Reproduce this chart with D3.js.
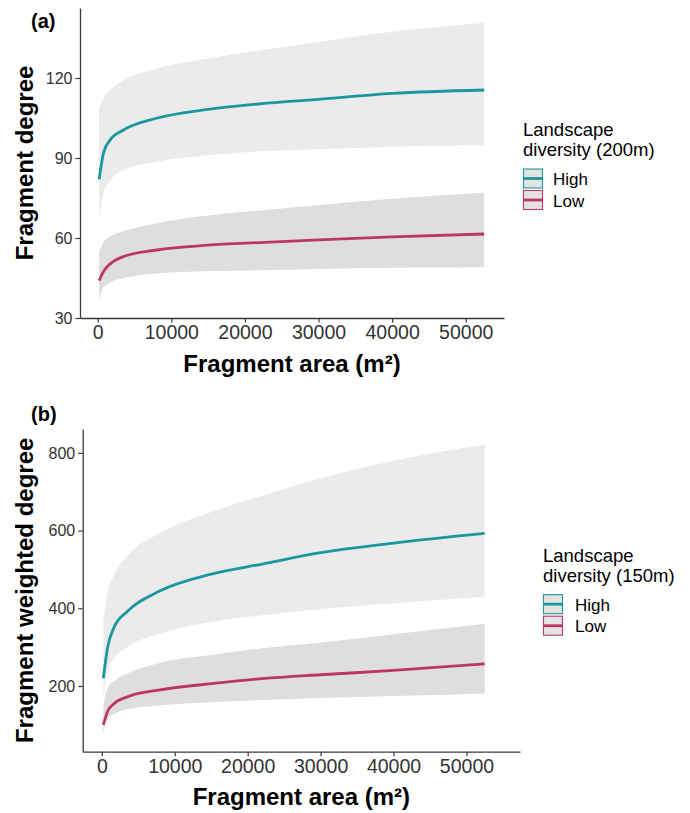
<!DOCTYPE html>
<html>
<head>
<meta charset="utf-8">
<script src="https://cdn.jsdelivr.net/npm/d3@7"></script>
<style>
  html, body { margin: 0; padding: 0; background: #ffffff; }
  svg { display: block; font-family: "Liberation Sans", Arial, sans-serif; }
</style>
</head>
<body>
<svg id="chart" width="690" height="813"></svg>
<script>
// ---------- data ----------
const areaX = [200, 800, 1700, 3500, 8000, 15000, 22000, 30000, 40000, 52500];
const xTicks = [0, 10000, 20000, 30000, 40000, 50000];

// Panel (a): Fragment degree, landscape diversity (200m)
const aHighFit   = [82, 92, 96.8, 100.5, 104.9, 108.2, 110.3, 112.0, 114.2, 115.5];
const aHighUpper = [108.7, 112.5, 115.5, 119.2, 123.6, 127.3, 130.3, 133.5, 137.3, 140.7];
const aHighLower = [66, 77, 81.5, 85.5, 88.6, 91, 92.5, 93.3, 94.2, 94.9];
const aLowFit    = [44, 47.5, 50.3, 53, 55.5, 57.3, 58.3, 59.3, 60.4, 61.5];
const aLowUpper  = [55, 58.5, 60.6, 62.5, 65.5, 68.4, 70.3, 72.3, 74.7, 77];
const aLowLower  = [36.8, 41.5, 43.3, 44.9, 46.7, 47.5, 47.9, 48.4, 48.8, 49];
const aYTicks = [30, 60, 90, 120];

// Panel (b): Fragment weighted degree, landscape diversity (150m)
const bHighFit   = [220, 300, 352, 392, 445, 488, 514, 543, 568, 593];
const bHighUpper = [365, 440, 487, 535, 594, 648, 690, 735, 780, 821];
const bHighLower = [170, 238, 272, 300, 335, 365, 382, 398, 413, 430];
const bLowFit    = [100, 135, 155, 172, 190, 206, 219, 229, 240, 257];
const bLowUpper  = [150, 195, 213, 232, 260, 280, 297, 312, 333, 360];
const bLowLower  = [80, 115, 128, 140, 150, 158, 164, 169, 174, 181];
const bYTicks = [200, 400, 600, 800];

const groups = ["High", "Low"];
const colors = { High: "#1b97a0", Low: "#bd3762" };
const bandFill = { High: "#ebebeb", Low: "#dedede" };

// ---------- drawing ----------
const svg = d3.select("#chart");

function panel(cfg) {
  const g = svg.append("g");
  const x = d3.scaleLinear().domain(cfg.xDomain).range([cfg.left, cfg.right]);
  const y = d3.scaleLinear().domain(cfg.yDomain).range([cfg.bottom, cfg.top]);

  const series = {
    High: { fit: cfg.highFit, up: cfg.highUpper, lo: cfg.highLower },
    Low:  { fit: cfg.lowFit,  up: cfg.lowUpper,  lo: cfg.lowLower }
  };

  const area = d3.area()
    .x(d => x(d.x)).y0(d => y(d.lo)).y1(d => y(d.up))
    .curve(d3.curveMonotoneX);
  const line = d3.line()
    .x(d => x(d.x)).y(d => y(d.v))
    .curve(d3.curveMonotoneX);

  groups.forEach(k => {
    const s = series[k];
    const pts = areaX.map((xv, i) => ({ x: xv, lo: s.lo[i], up: s.up[i] }));
    g.append("path").datum(pts).attr("d", area)
      .attr("fill", bandFill[k]).attr("stroke", "none");
  });
  groups.forEach(k => {
    const s = series[k];
    const pts = areaX.map((xv, i) => ({ x: xv, v: s.fit[i] }));
    g.append("path").datum(pts).attr("d", line)
      .attr("fill", "none").attr("stroke", colors[k]).attr("stroke-width", 2.8);
  });

  // axes
  const xAxis = d3.axisBottom(x).tickValues(xTicks).tickSize(4.5).tickSizeOuter(0).tickPadding(3)
    .tickFormat(d3.format("d"));
  const gx = g.append("g").attr("transform", `translate(0,${cfg.bottom})`).call(xAxis);
  gx.select(".domain").attr("stroke", "#3a3a3a").attr("stroke-width", 1.3);
  gx.selectAll(".tick line").attr("stroke", "#3a3a3a").attr("stroke-width", 1.2);
  gx.selectAll(".tick text").attr("fill", "#333").attr("font-size", 19.5)
    .attr("font-family", "Liberation Sans, Arial, sans-serif");

  const yAxis = d3.axisLeft(y).tickValues(cfg.yTicks).tickSize(4.5).tickSizeOuter(0).tickPadding(3);
  const gy = g.append("g").attr("transform", `translate(${cfg.left},0)`).call(yAxis);
  gy.select(".domain").attr("stroke", "#3a3a3a").attr("stroke-width", 1.3);
  gy.selectAll(".tick line").attr("stroke", "#3a3a3a").attr("stroke-width", 1.2);
  gy.selectAll(".tick text").attr("fill", "#333").attr("font-size", 16)
    .attr("font-family", "Liberation Sans, Arial, sans-serif");

  // titles
  g.append("text").attr("x", (cfg.left + cfg.right) / 2).attr("y", cfg.xTitleY)
    .attr("text-anchor", "middle").attr("font-weight", "bold").attr("font-size", 24)
    .attr("fill", "#000").text("Fragment area (m²)");
  g.append("text")
    .attr("transform", `translate(${cfg.yTitleX},${(cfg.top + cfg.bottom) / 2}) rotate(-90)`)
    .attr("text-anchor", "middle").attr("font-weight", "bold").attr("font-size", 24)
    .attr("fill", "#000").text(cfg.yTitle);
  g.append("text").attr("x", cfg.tagX).attr("y", cfg.tagY)
    .attr("font-weight", "bold").attr("font-size", 20).attr("fill", "#000").text(cfg.tag);

  // legend
  const lg = g.append("g");
  lg.append("text").attr("x", cfg.legX).attr("y", cfg.legY).attr("font-size", 18.5).attr("fill", "#000")
    .text("Landscape");
  lg.append("text").attr("x", cfg.legX).attr("y", cfg.legY + 20).attr("font-size", 18.5).attr("fill", "#000")
    .text(cfg.legTitle2);
  groups.forEach((k, i) => {
    const ky = cfg.legY + 33 + i * 21.5;
    lg.append("rect").attr("x", cfg.legX + 0.5).attr("y", ky).attr("width", 19).attr("height", 19)
      .attr("fill", "#e3e3e3").attr("stroke", colors[k]).attr("stroke-width", 1.1);
    lg.append("line").attr("x1", cfg.legX + 1).attr("x2", cfg.legX + 19.5)
      .attr("y1", ky + 9.5).attr("y2", ky + 9.5)
      .attr("stroke", colors[k]).attr("stroke-width", 2.8);
    lg.append("text").attr("x", cfg.legX + cfg.legGap).attr("y", ky + 16).attr("font-size", 17)
      .attr("fill", "#000").text(k);
  });
}

panel({
  xDomain: [-2405, 55200], left: 80, right: 504,
  yDomain: [30, 146.25], top: 8, bottom: 318,
  yTicks: aYTicks,
  highFit: aHighFit, highUpper: aHighUpper, highLower: aHighLower,
  lowFit: aLowFit, lowUpper: aLowUpper, lowLower: aLowLower,
  xTitleY: 372, yTitleX: 33, yTitle: "Fragment degree",
  tag: "(a)", tagX: 31, tagY: 28,
  legX: 523, legY: 136, legTitle2: "diversity (200m)", legGap: 30
});

panel({
  xDomain: [-2623, 57340], left: 82.7, right: 520,
  yDomain: [30.9, 861.5], top: 429, bottom: 751.7,
  yTicks: bYTicks,
  highFit: bHighFit, highUpper: bHighUpper, highLower: bHighLower,
  lowFit: bLowFit, lowUpper: bLowUpper, lowLower: bLowLower,
  xTitleY: 805, yTitleX: 33, yTitle: "Fragment weighted degree",
  tag: "(b)", tagX: 31, tagY: 421,
  legX: 543, legY: 561.7, legTitle2: "diversity (150m)", legGap: 32
});
</script>
</body>
</html>
